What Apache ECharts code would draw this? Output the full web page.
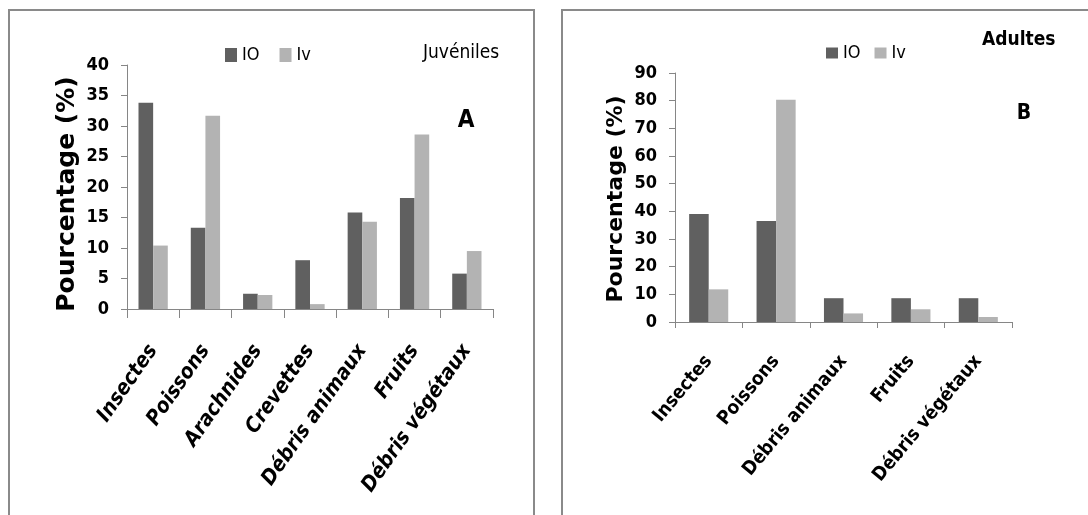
<!DOCTYPE html>
<html>
<head>
<meta charset="utf-8">
<script src="https://cdn.jsdelivr.net/npm/echarts@6/dist/echarts.min.js"></script>
<style>
html,body{margin:0;padding:0;background:#fff;}
#chart{width:1088px;height:515px;}
</style>
</head>
<body>
<div id="chart"></div>
<script>
// ---- Data ----
const catsA = ['Insectes', 'Poissons', 'Arachnides', 'Crevettes', 'Débris animaux', 'Fruits', 'Débris végétaux'];
const ioA = [33.8, 13.3, 2.5, 8.0, 15.8, 18.2, 5.8];
const ivA = [10.4, 31.7, 2.3, 0.8, 14.3, 28.6, 9.5];

const catsB = ['Insectes', 'Poissons', 'Débris animaux', 'Fruits', 'Débris végétaux'];
const ioB = [39.0, 36.5, 8.6, 8.6, 8.6];
const ivB = [11.8, 80.3, 3.1, 4.6, 1.8];

const seriesNames = ['IO', 'Iv'];
const yTitle = 'Pourcentage (%)';
const panelTitleA = 'Juvéniles';
const panelTitleB = 'Adultes';
const panelLetterA = 'A';
const panelLetterB = 'B';

// ---- Styles ----
const NARROW = "'DejaVu Sans Condensed', 'Liberation Sans Narrow', sans-serif";
const WIDE = "'DejaVu Sans', Verdana, sans-serif";
const DARK = '#606060';
const LIGHT = '#b3b3b3';
const AXIS = '#868686';
const BORDER = '#8a8a8a';

const chart = echarts.init(document.getElementById('chart'), null, {renderer: 'canvas'});

function xAxis(cats, gridIndex, rotate, margin, size, italic, tickLen) {
  return {
    type: 'category', gridIndex, data: cats,
    axisLine: {show: true, lineStyle: {color: AXIS, width: 1}},
    axisTick: {show: true, length: tickLen, lineStyle: {color: AXIS}},
    axisLabel: {interval: 0, rotate, margin, color: '#000', fontFamily: NARROW,
      fontSize: size, fontWeight: 'bold', fontStyle: italic ? 'italic' : 'normal'},
    splitLine: {show: false}
  };
}
function yAxis(gridIndex, max, interval, size) {
  return {
    type: 'value', gridIndex, min: 0, max, interval,
    axisLine: {show: true, lineStyle: {color: AXIS, width: 1}},
    axisTick: {show: true, length: 6, lineStyle: {color: AXIS}},
    axisLabel: {margin: 18, color: '#000', fontFamily: NARROW, fontSize: size, fontWeight: 'bold'},
    splitLine: {show: false}
  };
}

const option = {
  animation: false,
  backgroundColor: '#fff',
  grid: [
    {left: 127, top: 65, width: 366, height: 244},
    {left: 675, top: 73, width: 337, height: 249}
  ],
  xAxis: [
    xAxis(catsA, 0, 55, 38, 21, true, 9),
    xAxis(catsB, 1, 50, 36, 19, false, 6)
  ],
  yAxis: [
    yAxis(0, 40, 5, 18),
    yAxis(1, 90, 10, 18)
  ],
  legend: [
    {data: seriesNames, left: 225, top: 46, padding: 0, itemWidth: 12, itemHeight: 14, itemGap: 20,
      icon: 'rect', textStyle: {fontFamily: NARROW, fontSize: 18, color: '#000'}},
    {data: seriesNames, left: 826, top: 44, padding: 0, itemWidth: 12, itemHeight: 11, itemGap: 14,
      icon: 'rect', textStyle: {fontFamily: NARROW, fontSize: 18, color: '#000'}}
  ],
  series: [
    {name: seriesNames[0], type: 'bar', xAxisIndex: 0, yAxisIndex: 0, data: ioA,
      itemStyle: {color: DARK}, barGap: '0%', barCategoryGap: '44%'},
    {name: seriesNames[1], type: 'bar', xAxisIndex: 0, yAxisIndex: 0, data: ivA,
      itemStyle: {color: LIGHT}, barGap: '0%', barCategoryGap: '44%'},
    {name: seriesNames[0], type: 'bar', xAxisIndex: 1, yAxisIndex: 1, data: ioB,
      itemStyle: {color: DARK}, barGap: '0%', barCategoryGap: '42%'},
    {name: seriesNames[1], type: 'bar', xAxisIndex: 1, yAxisIndex: 1, data: ivB,
      itemStyle: {color: LIGHT}, barGap: '0%', barCategoryGap: '42%'}
  ],
  graphic: [
    {type: 'rect', shape: {x: 9, y: 10, width: 525, height: 530}, silent: true,
      style: {fill: 'none', stroke: BORDER, lineWidth: 2}},
    {type: 'rect', shape: {x: 562, y: 10, width: 560, height: 530}, silent: true,
      style: {fill: 'none', stroke: BORDER, lineWidth: 2}},
    {type: 'text', x: 423, y: 53, silent: true,
      style: {text: panelTitleA, font: "19px " + NARROW, fill: '#000', align: 'left', verticalAlign: 'middle'}},
    {type: 'text', x: 466, y: 121, silent: true,
      style: {text: panelLetterA, font: "bold 24px " + NARROW, fill: '#000', align: 'center', verticalAlign: 'middle'}},
    {type: 'text', x: 982, y: 40, silent: true,
      style: {text: panelTitleB, font: "bold 19px " + NARROW, fill: '#000', align: 'left', verticalAlign: 'middle'}},
    {type: 'text', x: 1024, y: 114, silent: true,
      style: {text: panelLetterB, font: "bold 21px " + NARROW, fill: '#000', align: 'center', verticalAlign: 'middle'}},
    {type: 'text', x: 67, y: 194, rotation: Math.PI / 2, silent: true,
      style: {text: yTitle, font: "bold 25px " + WIDE, fill: '#000', align: 'center', verticalAlign: 'middle'}},
    {type: 'text', x: 616, y: 199, rotation: Math.PI / 2, silent: true,
      style: {text: yTitle, font: "bold 22px " + WIDE, fill: '#000', align: 'center', verticalAlign: 'middle'}}
  ]
};
chart.setOption(option);
</script>
</body>
</html>
